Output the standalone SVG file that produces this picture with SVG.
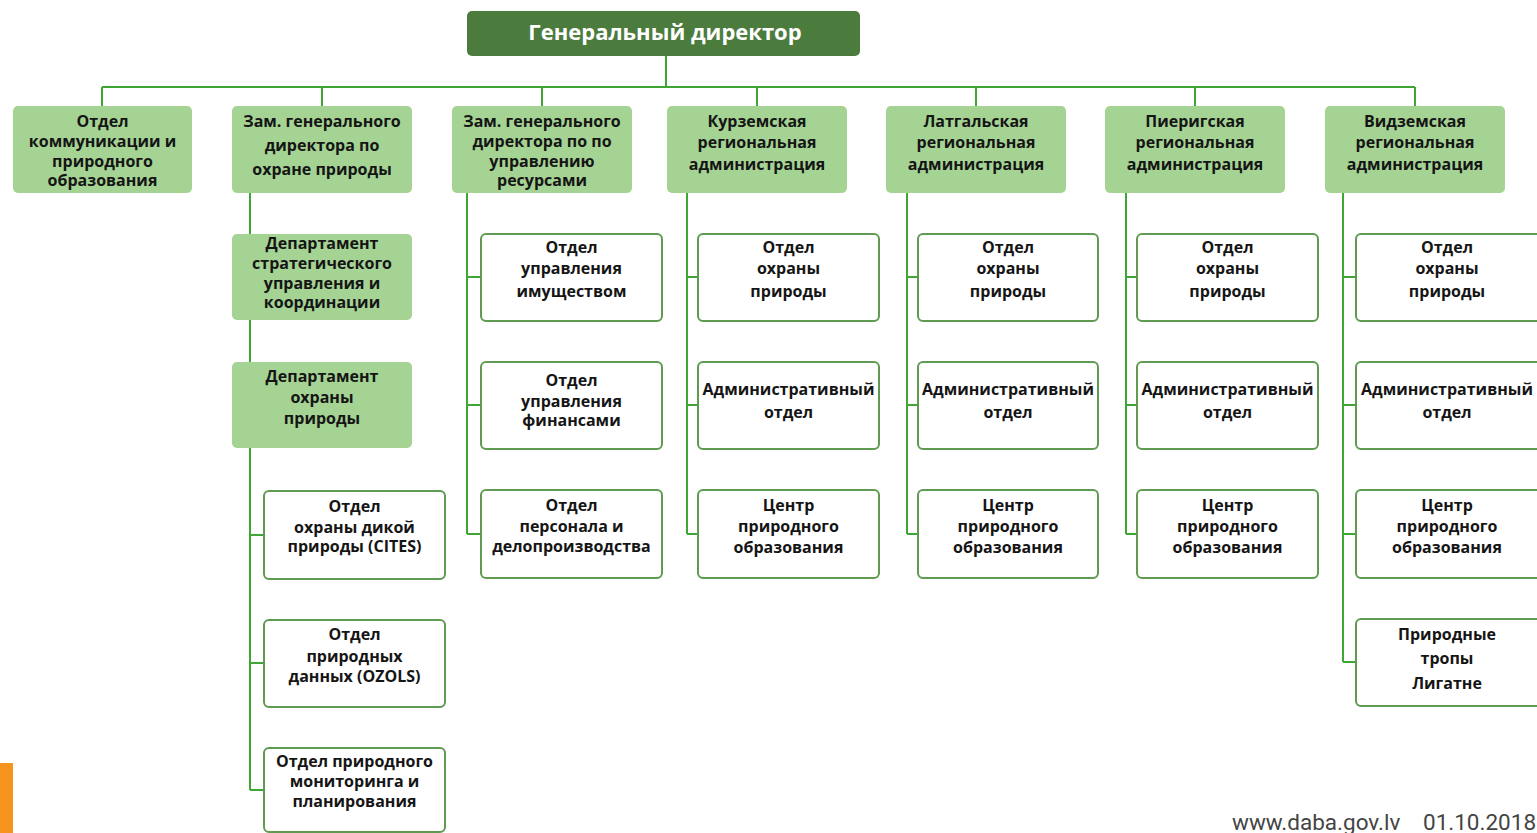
<svg xmlns="http://www.w3.org/2000/svg" width="1537" height="833" viewBox="0 0 1537 833">
<style>
.hd{fill:#4b7b3d}
.lg{fill:#a5d394}
.wb{fill:#fff;stroke:#5e9a50;stroke-width:2}
.ln{stroke:#3fa535;stroke-width:2;fill:none}
text{font-family:"Open Sans","Liberation Sans",sans-serif;font-weight:700;font-size:16px;fill:#151515;text-anchor:middle}
.ht{font-size:22px;font-weight:700;fill:#fff}
.ft{font-size:22.5px;font-weight:400;fill:#444;text-anchor:start;font-family:Roboto,"Liberation Sans",sans-serif}
</style>
<rect x="0" y="763" width="13" height="70" fill="#f7941d"/>
<g id="connectors">
<path class="ln" d="M666 56V87M102 87H1415M102 87V106M322 87V106M542 87V106M757 87V106M976 87V106M1195 87V106M1415 87V106"/>
<path class="ln" d="M250 193V790M250 535H264M250 663H264M250 790H264"/>
<path class="ln" d="M467 193V534M467 277H481M467 405H481M467 534H481"/>
<path class="ln" d="M687 193V534M687 277H698M687 405H698M687 534H698"/>
<path class="ln" d="M907 193V534M907 277H918M907 405H918M907 534H918"/>
<path class="ln" d="M1126 193V534M1126 277H1137M1126 405H1137M1126 534H1137"/>
<path class="ln" d="M1343 193V662M1343 277H1356M1343 405H1356M1343 534H1356M1343 662H1356"/>
</g>
<g id="gd"><rect class="hd" x="467" y="11" width="393" height="45" rx="5"/><text class="ht" x="665" y="40">Генеральный директор</text></g>

<g id="t1"><rect class="lg" x="13" y="106" width="179" height="87" rx="5"/>
<text x="102.5"><tspan x="102.5" y="127">Отдел</tspan><tspan x="102.5" y="147">коммуникации и</tspan><tspan x="102.5" y="167">природного</tspan><tspan x="102.5" y="186">образования</tspan></text></g>
<g id="t2"><rect class="lg" x="232" y="106" width="180" height="87" rx="5"/>
<text><tspan x="322" y="127">Зам. генерального</tspan><tspan x="322" y="151">директора по</tspan><tspan x="322" y="175">охране природы</tspan></text></g>
<g id="t3"><rect class="lg" x="452" y="106" width="180" height="87" rx="5"/>
<text><tspan x="542" y="127">Зам. генерального</tspan><tspan x="542" y="147">директора по по</tspan><tspan x="542" y="167">управлению</tspan><tspan x="542" y="186">ресурсами</tspan></text></g>
<g id="t4"><rect class="lg" x="667" y="106" width="180" height="87" rx="5"/>
<text><tspan x="757" y="127">Курземская</tspan><tspan x="757" y="148">региональная</tspan><tspan x="757" y="170">администрация</tspan></text></g>
<g id="t5"><rect class="lg" x="886" y="106" width="180" height="87" rx="5"/>
<text><tspan x="976" y="127">Латгальская</tspan><tspan x="976" y="148">региональная</tspan><tspan x="976" y="170">администрация</tspan></text></g>
<g id="t6"><rect class="lg" x="1105" y="106" width="180" height="87" rx="5"/>
<text><tspan x="1195" y="127">Пиеригская</tspan><tspan x="1195" y="148">региональная</tspan><tspan x="1195" y="170">администрация</tspan></text></g>
<g id="t7"><rect class="lg" x="1325" y="106" width="180" height="87" rx="5"/>
<text><tspan x="1415" y="127">Видземская</tspan><tspan x="1415" y="148">региональная</tspan><tspan x="1415" y="170">администрация</tspan></text></g>

<g id="d1"><rect class="lg" x="232" y="234" width="180" height="86" rx="5"/>
<text><tspan x="322" y="249">Департамент</tspan><tspan x="322" y="269">стратегического</tspan><tspan x="322" y="289">управления и</tspan><tspan x="322" y="308">координации</tspan></text></g>
<g id="d2"><rect class="lg" x="232" y="362" width="180" height="86" rx="5"/>
<text><tspan x="322" y="382">Департамент</tspan><tspan x="322" y="403">охраны</tspan><tspan x="322" y="424">природы</tspan></text></g>
<g id="a1"><rect class="wb" x="264" y="491" width="181" height="88" rx="5"/>
<text><tspan x="354.5" y="512">Отдел</tspan><tspan x="354.5" y="533">охраны дикой</tspan><tspan x="354.5" y="552">природы (CITES)</tspan></text></g>
<g id="a2"><rect class="wb" x="264" y="620" width="181" height="87" rx="5"/>
<text><tspan x="354.5" y="640">Отдел</tspan><tspan x="354.5" y="662">природных</tspan><tspan x="354.5" y="682">данных (OZOLS)</tspan></text></g>
<g id="a3"><rect class="wb" x="264" y="748" width="181" height="84" rx="5"/>
<text><tspan x="354.5" y="767">Отдел природного</tspan><tspan x="354.5" y="787">мониторинга и</tspan><tspan x="354.5" y="807">планирования</tspan></text></g>

<g id="b1"><rect class="wb" x="481" y="234" width="181" height="87" rx="5"/>
<text><tspan x="571.5" y="253">Отдел</tspan><tspan x="571.5" y="274">управления</tspan><tspan x="571.5" y="297">имуществом</tspan></text></g>
<g id="b2"><rect class="wb" x="481" y="362" width="181" height="87" rx="5"/>
<text><tspan x="571.5" y="386">Отдел</tspan><tspan x="571.5" y="407">управления</tspan><tspan x="571.5" y="426">финансами</tspan></text></g>
<g id="b3"><rect class="wb" x="481" y="490" width="181" height="88" rx="5"/>
<text><tspan x="571.5" y="511">Отдел</tspan><tspan x="571.5" y="532">персонала и</tspan><tspan x="571.5" y="552">делопроизводства</tspan></text></g>

<g id="c1"><rect class="wb" x="698" y="234" width="181" height="87" rx="5"/>
<text><tspan x="788.5" y="253">Отдел</tspan><tspan x="788.5" y="274">охраны</tspan><tspan x="788.5" y="297">природы</tspan></text></g>
<g id="c2"><rect class="wb" x="698" y="362" width="181" height="87" rx="5"/>
<text><tspan x="788.5" y="395">Административный</tspan><tspan x="788.5" y="418">отдел</tspan></text></g>
<g id="c3"><rect class="wb" x="698" y="490" width="181" height="88" rx="5"/>
<text><tspan x="788.5" y="511">Центр</tspan><tspan x="788.5" y="532">природного</tspan><tspan x="788.5" y="553">образования</tspan></text></g>

<g id="e1"><rect class="wb" x="918" y="234" width="180" height="87" rx="5"/>
<text><tspan x="1008" y="253">Отдел</tspan><tspan x="1008" y="274">охраны</tspan><tspan x="1008" y="297">природы</tspan></text></g>
<g id="e2"><rect class="wb" x="918" y="362" width="180" height="87" rx="5"/>
<text><tspan x="1008" y="395">Административный</tspan><tspan x="1008" y="418">отдел</tspan></text></g>
<g id="e3"><rect class="wb" x="918" y="490" width="180" height="88" rx="5"/>
<text><tspan x="1008" y="511">Центр</tspan><tspan x="1008" y="532">природного</tspan><tspan x="1008" y="553">образования</tspan></text></g>

<g id="f1"><rect class="wb" x="1137" y="234" width="181" height="87" rx="5"/>
<text><tspan x="1227.5" y="253">Отдел</tspan><tspan x="1227.5" y="274">охраны</tspan><tspan x="1227.5" y="297">природы</tspan></text></g>
<g id="f2"><rect class="wb" x="1137" y="362" width="181" height="87" rx="5"/>
<text><tspan x="1227.5" y="395">Административный</tspan><tspan x="1227.5" y="418">отдел</tspan></text></g>
<g id="f3"><rect class="wb" x="1137" y="490" width="181" height="88" rx="5"/>
<text><tspan x="1227.5" y="511">Центр</tspan><tspan x="1227.5" y="532">природного</tspan><tspan x="1227.5" y="553">образования</tspan></text></g>

<g id="g1"><rect class="wb" x="1356" y="234" width="185" height="87" rx="5"/>
<text><tspan x="1447" y="253">Отдел</tspan><tspan x="1447" y="274">охраны</tspan><tspan x="1447" y="297">природы</tspan></text></g>
<g id="g2"><rect class="wb" x="1356" y="362" width="185" height="87" rx="5"/>
<text><tspan x="1447" y="395">Административный</tspan><tspan x="1447" y="418">отдел</tspan></text></g>
<g id="g3"><rect class="wb" x="1356" y="490" width="185" height="88" rx="5"/>
<text><tspan x="1447" y="511">Центр</tspan><tspan x="1447" y="532">природного</tspan><tspan x="1447" y="553">образования</tspan></text></g>
<g id="g4"><rect class="wb" x="1356" y="619" width="185" height="87" rx="5"/>
<text><tspan x="1447" y="640">Природные</tspan><tspan x="1447" y="664">тропы</tspan><tspan x="1447" y="689">Лигатне</tspan></text></g>

<text class="ft" x="1232" y="830">www.daba.gov.lv</text>
<text class="ft" x="1423" y="830">01.10.2018</text>
</svg>
